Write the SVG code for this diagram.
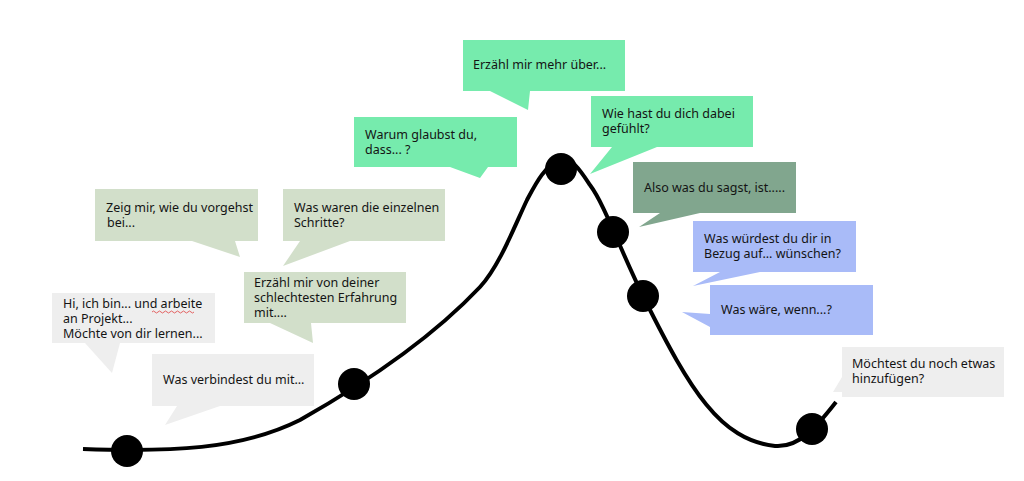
<svg xmlns="http://www.w3.org/2000/svg" width="1024" height="481" viewBox="0 0 1024 481">
<style>
text{font-family:"Noto Sans","DejaVu Sans",sans-serif;font-size:12.5px;fill:#141414}
.gray{fill:#eeeeee}.sage{fill:#d2dfca}.mint{fill:#76ebad}.dark{fill:#81a68e}.blue{fill:#a9bbf8}
.dot{fill:#000}
</style>
<rect width="1024" height="481" fill="#fff"/>
<g id="connectors">
<path d="M83,449 C170,452 240,450 300,420 C360,386 430,340 480,287 C500,265 515,225 527,200 C535,185 545,165 560,160 C572,157 580,170 590,185 C605,205 620,250 645,300 C690,390 720,440 775,446 C800,448 818,425 836,402" fill="none" stroke="#000" stroke-width="4"/>
</g>
<g id="b1"><path class="gray" d="M52,293H215V343H120L112,373L85,343H52Z"/><text x="63" y="308">Hi, ich bin... und arbeite</text><text x="63" y="323">an Projekt...</text><text x="63" y="338">Möchte von dir lernen...</text><path d="M152,312 q1.5,-2 3,0 t3,0 t3,0 t3,0 t3,0 t3,0 t3,0 t3,0 t3,0 t3,0 t3,0 t3,0 t3,0 t3,0" fill="none" stroke="#e04040" stroke-width="0.8"/></g>
<g id="b2"><path class="gray" d="M152,354H314V406H220L165,425L177,406H152Z"/><text x="163" y="384">Was verbindest du mit...</text></g>
<g id="b3"><path class="sage" d="M95,189H258V241H235L240,257L192,241H95Z"/><text x="106" y="212"> Zeig mir, wie du vorgehst</text><text x="107" y="227">bei...</text></g>
<g id="b4"><path class="sage" d="M283,189H445V241H350L283,266L300,241H283Z"/><text x="294" y="212">Was waren die einzelnen</text><text x="294" y="227">Schritte?</text></g>
<g id="b5"><path class="sage" d="M244,272H406V323H311L313,343L270,323H244Z"/><text x="254" y="287">Erzähl mir von deiner</text><text x="254" y="302">schlechtesten Erfahrung</text><text x="254" y="317">mit....</text></g>
<g id="b6"><path class="mint" d="M463,40H625V91H530L528,110L490,91H463Z"/><text x="473" y="69">Erzähl mir mehr über...</text></g>
<g id="b7"><path class="mint" d="M354,117H517V167H488L480,178L450,167H354Z"/><text x="365" y="139">Warum glaubst du,</text><text x="365" y="154">dass... ?</text></g>
<g id="b8"><path class="mint" d="M591,96H753V147H657L590,174L612,147H591Z"/><text x="602" y="118">Wie hast du dich dabei</text><text x="602" y="133">gefühlt?</text></g>
<g id="b9"><path class="dark" d="M633,162H796V213H700L639,227L660,213H633Z"/><text x="644" y="192">Also was du sagst, ist.....</text></g>
<g id="b10"><path class="blue" d="M693,221H856V272H760L693,286L720,272H693Z"/><text x="704" y="243">Was würdest du dir in</text><text x="704" y="258">Bezug auf... wünschen?</text></g>
<g id="b11"><path class="blue" d="M710,285H873V335H710V327L682,312L710,314Z"/><text x="721" y="314">Was wäre, wenn...?</text></g>
<g id="b12"><path class="gray" d="M842,347H1004V397H842V392L833,392L842,377Z"/><text x="852" y="368">Möchtest du noch etwas</text><text x="852" y="383">hinzufügen?</text></g>
<g id="dots">
<circle class="dot" cx="127" cy="451" r="16"/>
<circle class="dot" cx="354" cy="384" r="16"/>
<circle class="dot" cx="561" cy="169" r="16"/>
<circle class="dot" cx="613" cy="232" r="16"/>
<circle class="dot" cx="643" cy="296" r="16"/>
<circle class="dot" cx="812" cy="429" r="16"/>
</g>
</svg>
